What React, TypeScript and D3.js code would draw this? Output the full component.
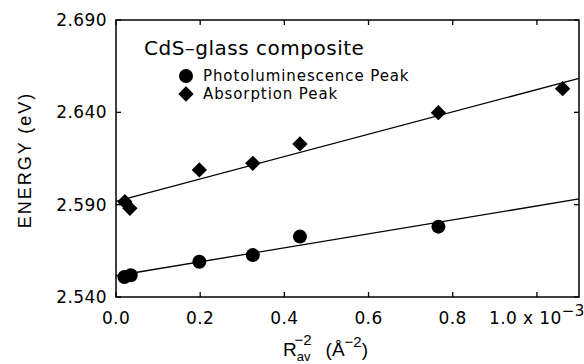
import React from 'react';
import * as d3 from 'd3';

// data (x in units of 1e-3 Å^-2, y in eV)
const plX = [0.02, 0.035, 0.198, 0.325, 0.437, 0.766];
const plY = [2.5508, 2.5518, 2.5591, 2.5627, 2.5727, 2.5781];
const absX = [0.021, 0.033, 0.198, 0.325, 0.437, 0.766, 1.061];
const absY = [2.5916, 2.588, 2.6088, 2.6124, 2.6229, 2.6398, 2.6528];
// linear fits drawn across the full x range
const plFit = [2.5515, 2.5931];
const absFit = [2.5918, 2.6584];
const xTicks = [0, 0.2, 0.4, 0.6, 0.8, 1.0];
const yTicks = [2.54, 2.59, 2.64, 2.69];

const W = 584;
const H = 364;
const margin = { left: 116, top: 20, right: 5, bottom: 67 };

const App = () => {
  const x = d3.scaleLinear().domain([0, 1.1]).range([margin.left, W - margin.right]);
  const y = d3.scaleLinear().domain([2.54, 2.69]).range([H - margin.bottom, margin.top]);
  const [x0, x1] = x.range();
  const [y0, y1] = y.range();
  const tk = 5;
  const tickFont = 'DejaVu Sans, sans-serif';
  const diamond = d3.symbol().type(d3.symbolDiamond2).size(150);

  return (
    <svg width={W} height={H} style={{ position: 'absolute', left: 0, top: 0, background: '#fff' }}>
      <rect x={x0} y={y1} width={x1 - x0} height={y0 - y1} fill="none" stroke="#000" strokeWidth={1.5} />

      {xTicks.map((t, i) => (
        <g key={'xt' + i}>
          <line x1={x(t)} x2={x(t)} y1={y0} y2={y0 - tk} stroke="#000" strokeWidth={1.3} />
          <line x1={x(t)} x2={x(t)} y1={y1} y2={y1 + tk} stroke="#000" strokeWidth={1.3} />
          <text x={x(t)} y={y0 + 27} textAnchor="middle" fontSize={17} letterSpacing={0.4} fontFamily={tickFont}>
            {t === 1 ? '1.0 x 10' : t.toFixed(1)}
            {t === 1 ? <tspan dy={-8} fontSize={15}>−3</tspan> : null}
          </text>
        </g>
      ))}

      {yTicks.map((t, i) => (
        <g key={'yt' + i}>
          <line x1={x0} x2={x0 + tk} y1={y(t)} y2={y(t)} stroke="#000" strokeWidth={1.3} />
          <line x1={x1} x2={x1 - tk} y1={y(t)} y2={y(t)} stroke="#000" strokeWidth={1.3} />
          <text x={x0 - 9} y={y(t)} dy="0.36em" textAnchor="end" fontSize={17} letterSpacing={0.4} fontFamily={tickFont}>
            {t.toFixed(3)}
          </text>
        </g>
      ))}

      <line x1={x(0)} x2={x(1.1)} y1={y(absFit[0])} y2={y(absFit[1])} stroke="#000" strokeWidth={1.3} />
      <line x1={x(0)} x2={x(1.1)} y1={y(plFit[0])} y2={y(plFit[1])} stroke="#000" strokeWidth={1.3} />

      {absX.map((d, i) => (
        <path key={'a' + i} d={diamond() as string} transform={`translate(${x(d)},${y(absY[i])})`} fill="#000" />
      ))}
      {plX.map((d, i) => (
        <circle key={'p' + i} cx={x(d)} cy={y(plY[i])} r={7} fill="#000" />
      ))}

      <text x={144} y={55} fontSize={20} letterSpacing={0.5} fontFamily={tickFont}>CdS–glass composite</text>
      <circle cx={186} cy={76} r={7} fill="#000" />
      <text x={203} y={81} fontSize={15} letterSpacing={0.9} fontFamily={tickFont}>Photoluminescence Peak</text>
      <path d={diamond() as string} transform="translate(186,94)" fill="#000" />
      <text x={203} y={99} fontSize={15} letterSpacing={0.9} fontFamily={tickFont}>Absorption Peak</text>

      <text transform="translate(31,160) rotate(-90)" textAnchor="middle" fontSize={18} letterSpacing={2}
        fontFamily="Liberation Sans, Arial, sans-serif">ENERGY (eV)</text>

      <text x={283} y={356} fontSize={19} fontFamily="Liberation Sans, Arial, sans-serif">
        R<tspan fontSize={13} dy={5}>av</tspan>
        <tspan fontSize={15} dx={-16} dy={-16}>−2</tspan>
        <tspan fontSize={19} dx={14} dy={11}>(Å</tspan>
        <tspan fontSize={15} dy={-9}>−2</tspan>
        <tspan fontSize={19} dy={9}>)</tspan>
      </text>
    </svg>
  );
};

export default App;
